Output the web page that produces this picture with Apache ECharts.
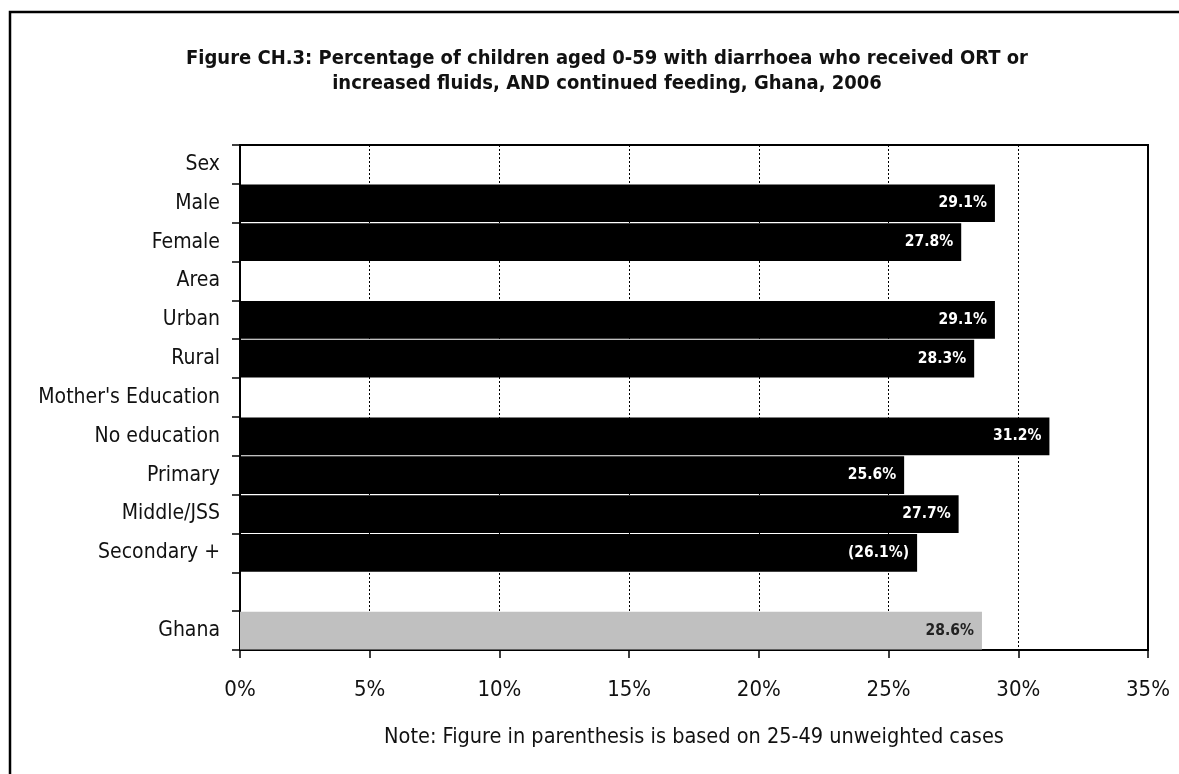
<!DOCTYPE html>
<html>
<head>
<meta charset="utf-8">
<script src="https://cdn.jsdelivr.net/npm/echarts@6/dist/echarts.min.js"></script>
<style>
html,body{margin:0;padding:0;background:#fff;}
#main{width:1179px;height:774px;}
</style>
</head>
<body>
<div id="main"></div>
<script>
var categories = ["Sex","Male","Female","Area","Urban","Rural","Mother's Education","No education","Primary","Middle/JSS","Secondary +","","Ghana"];
var values = [null,29.1,27.8,null,29.1,28.3,null,31.2,25.6,27.7,26.1,null,28.6];
var valueLabels = ["","29.1%","27.8%","","29.1%","28.3%","","31.2%","25.6%","27.7%","(26.1%)","","28.6%"];
var totalIndex = 12;

var FONT = "'Liberation Sans Narrow','Arial Narrow','DejaVu Sans Condensed',sans-serif";
var chart = echarts.init(document.getElementById('main'), null, {renderer:'canvas'});

var data = values.map(function(v,i){
  if (v === null) return {value:null};
  var total = i === totalIndex;
  return {
    value: v,
    itemStyle: {color: total ? '#c0c0c0' : '#000000'},
    label: {color: total ? '#222222' : '#ffffff'}
  };
});

chart.setOption({
  animation:false,
  backgroundColor:'#ffffff',
  textStyle:{fontFamily:FONT},
  title:{
    text:'Figure CH.3: Percentage of children aged 0-59 with diarrhoea who received ORT or\nincreased fluids, AND continued feeding, Ghana, 2006',
    left:602, top:41, textAlign:'center',
    textStyle:{fontFamily:FONT,fontSize:20,fontWeight:'bold',color:'#111',lineHeight:25}
  },
  grid:{left:240,right:31,top:145,bottom:124,show:true,borderColor:'#000',borderWidth:2,containLabel:false},
  xAxis:{
    type:'value',min:0,max:35,interval:5,
    axisLine:{show:true,lineStyle:{color:'#000',width:2}},
    axisTick:{show:true,inside:false,length:8,lineStyle:{color:'#000',width:1.5}},
    axisLabel:{formatter:function(v){return v+'%';},fontFamily:FONT,fontSize:22,color:'#111',margin:29},
    splitLine:{show:true,lineStyle:{color:'#000',type:[2,2],width:1}}
  },
  yAxis:{
    type:'category',data:categories,inverse:true,
    axisLine:{show:true,lineStyle:{color:'#000',width:2}},
    axisTick:{show:true,inside:false,length:8,lineStyle:{color:'#000',width:1.5}},
    axisLabel:{fontFamily:FONT,fontSize:21,color:'#111',margin:20},
    splitLine:{show:false}
  },
  series:[{
    type:'bar',
    data:data,
    barCategoryGap:'3%',
    label:{
      show:true,position:'insideRight',distance:8,
      fontFamily:FONT,fontSize:15.5,fontWeight:'bold',
      formatter:function(p){return valueLabels[p.dataIndex];}
    }
  }],
  graphic:[
    {type:'polyline',shape:{points:[[10,774],[10,12],[1179,12]]},style:{stroke:'#000',lineWidth:2.5,fill:null}},
    {type:'text',x:694,y:726,style:{text:'Note: Figure in parenthesis is based on 25-49 unweighted cases',fontFamily:FONT,fontSize:21.5,fill:'#111',align:'center',verticalAlign:'top'}}
  ]
});
</script>
</body>
</html>
